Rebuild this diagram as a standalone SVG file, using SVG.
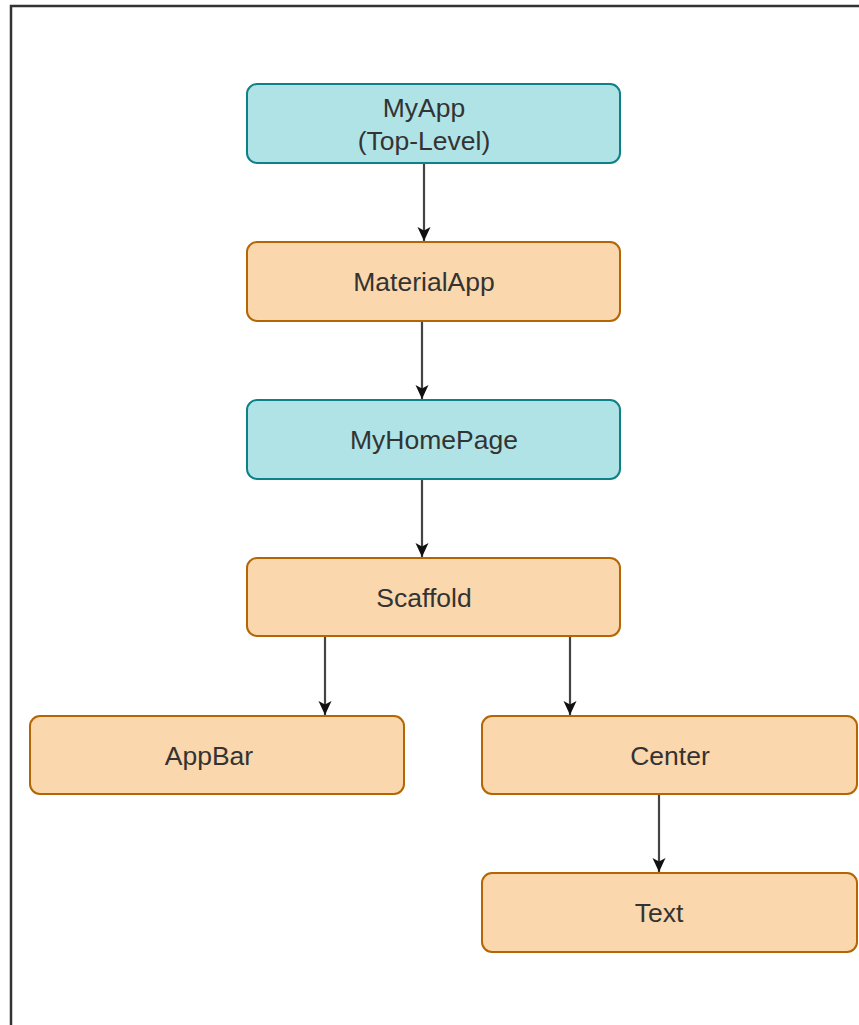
<svg xmlns="http://www.w3.org/2000/svg" width="859" height="1025" viewBox="0 0 859 1025">
<style>
.teal{fill:#b0e3e6;stroke:#0e8088;stroke-width:2}
.orange{fill:#fad7ac;stroke:#b46504;stroke-width:2}
.lbl{font-family:"Liberation Sans",Arial,sans-serif;font-size:26.5px;fill:#333;text-anchor:middle}
.edge{stroke:#444;stroke-width:2.2;fill:none;marker-end:url(#arr)}
</style>
<defs>
<marker id="arr" markerWidth="14" markerHeight="14" viewBox="0 0 14 14" refX="14" refY="7" orient="auto" markerUnits="userSpaceOnUse">
<path d="M0,0.5 L14,7 L0,13.5 L3.5,7 Z" fill="#111"/>
</marker>
</defs>
<rect x="0" y="0" width="859" height="1025" fill="#fff"/>
<path d="M11,1025 L11,6 L859,6" fill="none" stroke="#333" stroke-width="2.5"/>
<g id="connectors">
<line class="edge" x1="424" y1="163" x2="424" y2="241"/>
<line class="edge" x1="422" y1="321" x2="422" y2="399"/>
<line class="edge" x1="422" y1="479" x2="422" y2="557"/>
<line class="edge" x1="325" y1="636" x2="325" y2="715"/>
<line class="edge" x1="570" y1="636" x2="570" y2="715"/>
<line class="edge" x1="659" y1="794" x2="659" y2="872"/>
</g>
<g id="myapp"><rect class="teal" x="247" y="84" width="373" height="79" rx="10"/>
<text class="lbl" x="424" y="117">MyApp</text><text class="lbl" x="424" y="150">(Top-Level)</text></g>
<g id="materialapp"><rect class="orange" x="247" y="242" width="373" height="79" rx="10"/>
<text class="lbl" x="424" y="291">MaterialApp</text></g>
<g id="myhomepage"><rect class="teal" x="247" y="400" width="373" height="79" rx="10"/>
<text class="lbl" x="434" y="449">MyHomePage</text></g>
<g id="scaffold"><rect class="orange" x="247" y="558" width="373" height="78" rx="10"/>
<text class="lbl" x="424" y="607">Scaffold</text></g>
<g id="appbar"><rect class="orange" x="30" y="716" width="374" height="78" rx="10"/>
<text class="lbl" x="209" y="765">AppBar</text></g>
<g id="center"><rect class="orange" x="482" y="716" width="375" height="78" rx="10"/>
<text class="lbl" x="670" y="765">Center</text></g>
<g id="text"><rect class="orange" x="482" y="873" width="375" height="79" rx="10"/>
<text class="lbl" x="659" y="922">Text</text></g>
</svg>
